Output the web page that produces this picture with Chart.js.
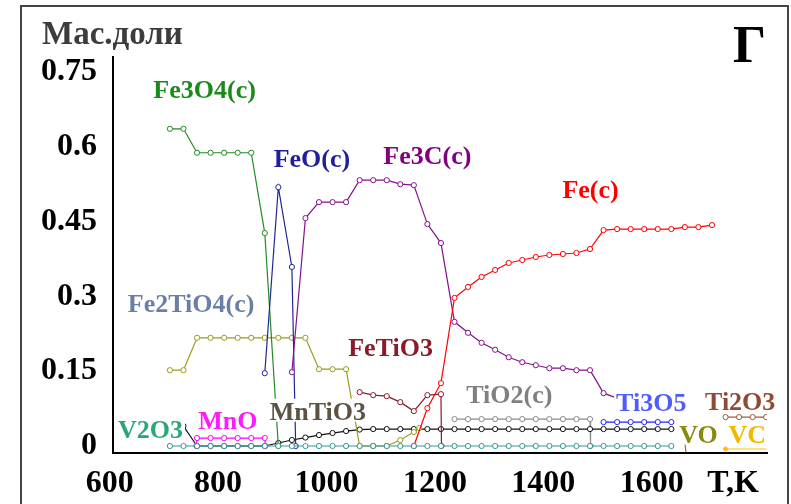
<!DOCTYPE html>
<html>
<head>
<meta charset="utf-8">
<script src="https://cdn.jsdelivr.net/npm/chart.js@4/dist/chart.umd.min.js"></script>
<style>
  html, body { margin: 0; padding: 0; background: #fff; }
</style>
</head>
<body>
<canvas id="chart" width="791" height="504"></canvas>
<script>
// ============================================================
// Мас.доли vs T,K (фазовый состав, вариант Г)
// ============================================================

// каждая серия: [T, массовая доля]
const fe3o4 = [[700,0.636],[725,0.636],[750,0.588],[775,0.588],[800,0.588],[825,0.588],[850,0.588],[875,0.427],[900,0]];
const feo = [[875,0.146],[900,0.519],[925,0.359],[932,0]];
const fe3c = [[925,0.148],[950,0.457],[975,0.489],[1000,0.489],[1025,0.489],[1050,0.533],[1075,0.533],[1100,0.533],
  [1125,0.525],[1150,0.523],[1175,0.445],[1200,0.407],[1225,0.249],[1250,0.227],[1275,0.207],[1300,0.193],
  [1325,0.178],[1350,0.168],[1375,0.162],[1400,0.156],[1425,0.156],[1450,0.152],[1475,0.152],[1500,0.106],[1525,0.096]];
const fe = [[1150,0],[1175,0.076],[1200,0.126],[1225,0.297],[1250,0.319],[1275,0.339],[1300,0.353],[1325,0.367],
  [1350,0.373],[1375,0.379],[1400,0.383],[1425,0.385],[1450,0.387],[1475,0.395],[1500,0.433],[1525,0.435],
  [1550,0.435],[1575,0.435],[1600,0.435],[1625,0.435],[1650,0.439],[1675,0.439],[1700,0.443]];
const fe2tio4 = [[700,0.152],[725,0.152],[750,0.217],[775,0.217],[800,0.217],[825,0.217],[850,0.217],[875,0.217],
  [900,0.217],[925,0.217],[950,0.217],[975,0.154],[1000,0.154],[1025,0.154],[1050,0],[1075,0],[1100,0],
  [1125,0.012],[1150,0.028],[1160,0.036]];
const fetio3 = [[1050,0.108],[1075,0.102],[1100,0.100],[1125,0.088],[1150,0.070],[1175,0.102],[1200,0.104],[1201,0]];
const mno = [[749,0],[750,0.016],[775,0.016],[800,0.016],[825,0.016],[850,0.016],[875,0.016],[876,0]];
const mntio3 = [[700,0.04],[725,0.04],[750,0],[775,0],[800,0],[825,0],[850,0],[875,0],[900,0.006],[925,0.012],
  [950,0.017],[975,0.022],[1000,0.026],[1025,0.030],[1050,0.033],[1075,0.034],[1100,0.034],[1125,0.034],
  [1150,0.034],[1175,0.034],[1200,0.034],[1225,0.034],[1250,0.034],[1275,0.034],[1300,0.034],[1325,0.034],
  [1350,0.034],[1375,0.034],[1400,0.034],[1425,0.034],[1450,0.034],[1475,0.034],[1500,0.034],[1525,0.034],
  [1550,0.034],[1575,0.034],[1600,0.034],[1625,0.034]];
const tio2 = [[1225,0.054],[1250,0.054],[1275,0.054],[1300,0.054],[1325,0.054],[1350,0.054],[1375,0.054],
  [1400,0.054],[1425,0.054],[1450,0.054],[1475,0.054],[1476,0]];
const ti3o5 = [[1075,0],[1076,null],[1500,0.048],[1525,0.048],[1550,0.048],[1575,0.048],[1600,0.048],[1625,0.048]];
const ti2o3 = [[1725,0.058],[1750,0.058],[1775,0.058],[1800,0.058]];
const v2o3 = [[700,0],[725,0],[750,0],[775,0],[800,0],[825,0],[850,0],[875,0],[900,0],[925,0],[950,0],[975,0],
  [1000,0],[1025,0],[1050,0],[1075,0],[1100,0],[1125,0],[1150,0],[1175,0],[1200,0],[1225,0],[1250,0],[1275,0],
  [1300,0],[1325,0],[1350,0],[1375,0],[1400,0],[1425,0],[1450,0],[1475,0],[1500,0],[1525,0],[1550,0],[1575,0],
  [1600,0],[1625,0]];
const vo = [[1650,0.006],[1652,-0.012]];
const vc = [[1725,-0.006],[1750,-0.006],[1775,-0.006],[1800,-0.006]];

const xTicks = [600, 800, 1000, 1200, 1400, 1600, 1750];
const xTickLabels = ['600', '800', '1000', '1200', '1400', '1600', 'T,K'];
const yTicks = [0, 0.15, 0.3, 0.45, 0.6, 0.75];
const yTickLabels = ['0', '0.15', '0.3', '0.45', '0.6', '0.75'];

// подписи серий: текст, T, доля, цвет
const seriesLabels = [
  ['Fe3O4(c)', 764, 0.714, '#1a8a1a'],
  ['FeO(c)', 962, 0.577, '#1f1f9c'],
  ['Fe3C(c)', 1175, 0.582, '#800080'],
  ['Fe(c)', 1476, 0.515, '#ff0000'],
  ['Fe2TiO4(c)', 739, 0.285, '#6a7fa6'],
  ['FeTiO3', 1107, 0.197, '#8b1a2a'],
  ['MnTiO3', 973, 0.070, '#5c5346'],
  ['TiO2(c)', 1326, 0.104, '#808080'],
  ['Ti3O5', 1588, 0.088, '#4f5cff'],
  ['Ti2O3', 1752, 0.090, '#8e4a32'],
  ['VO', 1675, 0.024, '#8a8a10'],
  ['VC', 1765, 0.024, '#f2b800'],
  ['V2O3', 664, 0.034, '#27a874'],
  ['MnO', 807, 0.052, '#ff1aff']
];

const SERIF = '"Liberation Serif", "DejaVu Serif", serif';

function series(data, color, extra) {
  return Object.assign({
    data: data.map(p => ({ x: p[0], y: p[1] })),
    borderColor: color,
    borderWidth: 1.2,
    pointRadius: 2.6,
    pointBorderWidth: 1,
    pointBackgroundColor: '#fff',
    pointBorderColor: color,
    tension: 0,
    spanGaps: false
  }, extra || {});
}

const decor = {
  id: 'decor',
  beforeDraw(chart) {
    const c = chart.ctx;
    c.save();
    c.fillStyle = '#fff';
    c.fillRect(0, 0, chart.width, chart.height);
    c.strokeStyle = '#444';
    c.lineWidth = 2;
    c.strokeRect(21, 6, 767, 560);
    c.fillStyle = '#3c3c3c';
    c.font = 'bold 33px ' + SERIF;
    c.textBaseline = 'alphabetic';
    c.fillText('Мас.доли', 42, 44);
    c.fillStyle = '#000';
    c.font = 'bold 52px ' + SERIF;
    c.fillText('Г', 733, 62);
    c.restore();
  },
  afterDatasetsDraw(chart) {
    const c = chart.ctx;
    const xs = chart.scales.x, ys = chart.scales.y;
    c.save();
    c.font = 'bold 26px ' + SERIF;
    c.textAlign = 'center';
    c.textBaseline = 'alphabetic';
    seriesLabels.forEach(([text, t, v, color]) => {
      const cx = xs.getPixelForValue(t);
      const cy = ys.getPixelForValue(v);
      const base = cy + 26 * 0.33;
      const m = c.measureText(text);
      const w = m.width;
      const asc = m.actualBoundingBoxAscent, desc = m.actualBoundingBoxDescent;
      c.fillStyle = '#fff';
      c.fillRect(cx - w / 2 - 2, base - asc - 3, w + 4, asc + desc + 5);
      c.fillStyle = color;
      c.fillText(text, cx, base);
    });
    c.restore();
  }
};

new Chart(document.getElementById('chart'), {
  type: 'line',
  data: {
    datasets: [
      series(v2o3, '#2e9a9a'),
      series(fe, '#ff0000'),
      series(fe3c, '#86108c'),
      series(feo, '#23239a'),
      series(fe3o4, '#228b22'),
      series(fe2tio4, '#9b9b1f'),
      series(fetio3, '#8b1a2a'),
      series(mno, '#ff00ff'),
      series(mntio3, '#111111'),
      series(tio2, '#8c8c8c'),
      series(ti3o5, '#2020ff'),
      series(ti2o3, '#9c5a3c'),
      series(vo, '#808000', { pointRadius: 0 }),
      series(vc, '#ffc000', { pointRadius: ctx => ctx.dataIndex === 0 ? 2 : 0, pointBackgroundColor: '#ffc000' })
    ]
  },
  options: {
    responsive: false,
    animation: false,
    events: [],
    layout: { padding: { top: 57, right: 24, left: 0, bottom: 0 } },
    plugins: {
      legend: { display: false },
      tooltip: { enabled: false },
      title: { display: false }
    },
    scales: {
      x: {
        type: 'linear',
        min: 595,
        max: 1801.5,
        afterBuildTicks: s => { s.ticks = xTicks.map(v => ({ value: v })); },
        afterFit: s => { s.height = 51; },
        grid: { display: false, drawTicks: false },
        border: { display: true, color: '#000', width: 2 },
        ticks: {
          autoSkip: false,
          maxRotation: 0,
          padding: 12,
          labelOffset: -6,
          color: '#000',
          font: { family: SERIF, size: 32, weight: 'bold' },
          callback: (v, i) => xTickLabels[i]
        }
      },
      y: {
        min: -0.014,
        max: 0.78,
        afterBuildTicks: s => { s.ticks = yTicks.map(v => ({ value: v })); },
        afterFit: s => { s.width = 113; },
        grid: { display: false, drawTicks: false },
        border: { display: true, color: '#000', width: 2 },
        ticks: {
          autoSkip: false,
          padding: 16,
          color: '#000',
          font: { family: SERIF, size: 32, weight: 'bold' },
          callback: (v, i) => yTickLabels[i]
        }
      }
    }
  },
  plugins: [decor]
});
</script>
</body>
</html>
